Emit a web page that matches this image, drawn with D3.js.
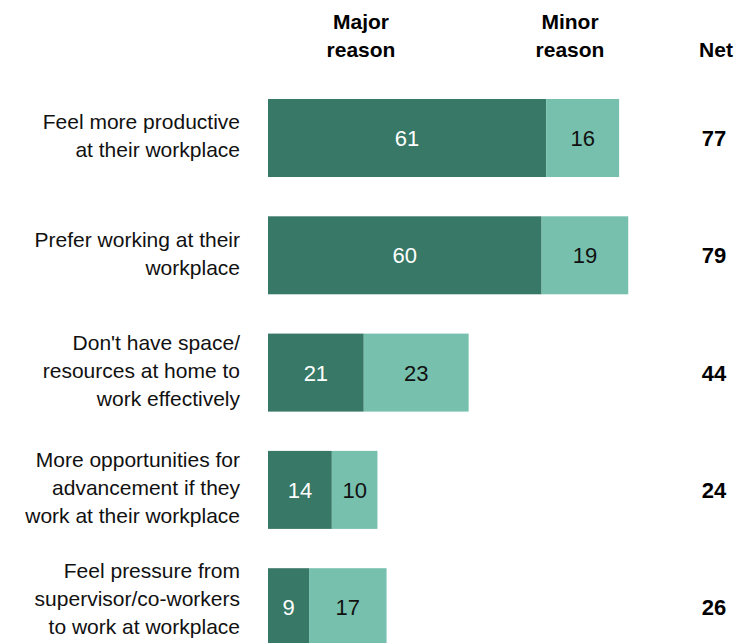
<!DOCTYPE html>
<html>
<head>
<meta charset="utf-8">
<script src="https://cdn.jsdelivr.net/npm/d3@7/dist/d3.min.js"></script>
<style>
  body { margin: 0; background: #fff; }
  svg { display: block; font-family: "Liberation Sans", Arial, sans-serif; }
</style>
</head>
<body>
<div id="chart"></div>
<script>
// reasons for going in to the workplace
var categories = [
  ["Feel more productive", "at their workplace"],
  ["Prefer working at their", "workplace"],
  ["Don't have space/", "resources at home to", "work effectively"],
  ["More opportunities for", "advancement if they", "work at their workplace"],
  ["Feel pressure from", "supervisor/co-workers", "to work at workplace"]
];
var major = [61, 60, 21, 14, 9];
var minor = [16, 19, 23, 10, 17];
var net = [77, 79, 44, 24, 26];
var headers = [["Major", "reason"], ["Minor", "reason"], ["Net"]];

var W = 735, H = 643;
var svg = d3.select("#chart").append("svg").attr("width", W).attr("height", H);

var x0 = 268;
var x = d3.scaleLinear().domain([0, 100]).range([x0, x0 + 456]);
var step = 117.3, bh = 78;
var y = d3.scaleBand().domain(d3.range(categories.length))
    .range([99, 99 + step * 4 + bh])
    .paddingInner((step - bh) / step).paddingOuter(0);

var dark = "#387866", light = "#77c0ae";

var rows = svg.selectAll("g.row").data(categories).enter().append("g")
    .attr("class", "row")
    .attr("transform", (d, i) => "translate(0," + y(i) + ")");

bh = y.bandwidth();

rows.append("rect")
    .attr("x", x(0))
    .attr("width", (d, i) => x(major[i]) - x(0))
    .attr("height", bh)
    .attr("fill", dark);

rows.append("rect")
    .attr("x", (d, i) => x(major[i]))
    .attr("width", (d, i) => x(major[i] + minor[i]) - x(major[i]))
    .attr("height", bh)
    .attr("fill", light);

rows.append("text")
    .attr("x", (d, i) => (x(0) + x(major[i])) / 2)
    .attr("y", bh / 2)
    .attr("dy", "0.36em")
    .attr("text-anchor", "middle")
    .attr("fill", "#fff")
    .style("font-size", "22px")
    .text((d, i) => major[i]);

rows.append("text")
    .attr("x", (d, i) => (x(major[i]) + x(major[i] + minor[i])) / 2)
    .attr("y", bh / 2)
    .attr("dy", "0.36em")
    .attr("text-anchor", "middle")
    .attr("fill", "#111")
    .style("font-size", "22px")
    .text((d, i) => minor[i]);

// net column
rows.append("text")
    .attr("x", 714)
    .attr("y", bh / 2)
    .attr("dy", "0.36em")
    .attr("text-anchor", "middle")
    .attr("fill", "#000")
    .style("font-weight", "bold")
    .style("font-size", "22px")
    .text((d, i) => net[i]);

// category labels (kept inside the picture at the bottom)
var lh = 28;
rows.append("text")
    .attr("text-anchor", "end")
    .attr("fill", "#111")
    .style("font-size", "21px")
    .each(function(d, i) {
      var t = d3.select(this);
      var start = bh / 2 - (d.length - 1) * lh / 2 - 2;
      var over = y(i) + start + (d.length - 1) * lh + 8 - (H - 8);
      if (over > 0) start -= over;
      d.forEach(function(line, j) {
        t.append("tspan")
          .attr("x", 240)
          .attr("y", start + j * lh)
          .attr("dy", "0.35em")
          .text(line);
      });
    });

// headers
var hx = [361, 570, 716];
svg.selectAll("text.hdr").data(headers).enter().append("text")
    .attr("class", "hdr")
    .attr("text-anchor", "middle")
    .style("font-weight", "bold")
    .style("font-size", "21px")
    .each(function(d, i) {
      var t = d3.select(this);
      var start = d.length === 1 ? 50 : 22;
      d.forEach(function(line, j) {
        t.append("tspan")
          .attr("x", hx[i])
          .attr("y", start + j * 28)
          .attr("dy", "0.35em")
          .text(line);
      });
    });
</script>
</body>
</html>
